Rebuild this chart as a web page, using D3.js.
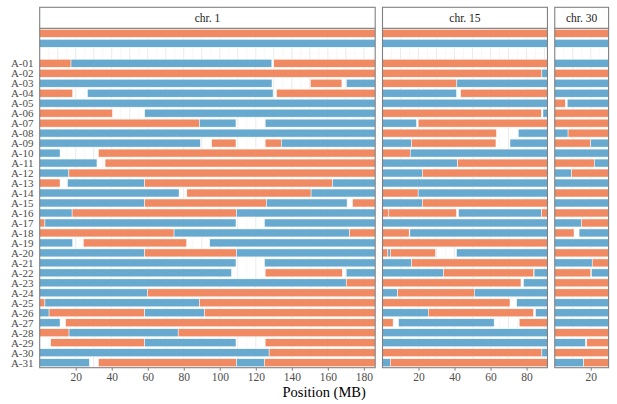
<!DOCTYPE html>
<html>
<head>
<meta charset="utf-8">
<script src="https://cdn.jsdelivr.net/npm/d3@7"></script>
<style>
  html, body { margin: 0; padding: 0; background: #ffffff; }
  svg { display: block; }
  text { font-family: "Liberation Serif", "Times New Roman", serif; }
</style>
</head>
<body>
<script>
// ---------------- DATA ----------------
const chromosomes = ["chr. 1", "chr. 15", "chr. 30"];
const chromLengths = [186.3, 91.6, 29.9];          // MB
const xTickValues = [
  [20, 40, 60, 80, 100, 120, 140, 160, 180],
  [20, 40, 60, 80],
  [20]
];
const rowIds = ["P1", "P2", "blank",
  "A-01","A-02","A-03","A-04","A-05","A-06","A-07","A-08","A-09","A-10",
  "A-11","A-12","A-13","A-14","A-15","A-16","A-17","A-18","A-19","A-20",
  "A-21","A-22","A-23","A-24","A-25","A-26","A-27","A-28","A-29","A-30","A-31"];
const rowLabels = ["", "", "",
  "A-01","A-02","A-03","A-04","A-05","A-06","A-07","A-08","A-09","A-10",
  "A-11","A-12","A-13","A-14","A-15","A-16","A-17","A-18","A-19","A-20",
  "A-21","A-22","A-23","A-24","A-25","A-26","A-27","A-28","A-29","A-30","A-31"];
const alleles = ["O", "B"];
const alleleColors = ["#ef8a62", "#67a9cf"];

// blocks: "allele start end" separated by commas (one string per row, same order as rowIds)
const chr1Blocks = [
  "O 0 186.3",
  "B 0 186.3",
  "",
  "O 0 17.4, B 17.4 128.9, O 130 186.3",
  "O 0 186.3",
  "B 0 129, O 150.3 167.8, B 170.3 186.3",
  "O 0 18.3, B 26.5 129.6, O 131.5 186.3",
  "B 0 186.3",
  "O 0 40.4, B 58.3 186.3",
  "O 0 88.7, B 88.7 109, B 125.2 186.3",
  "B 0 186.3",
  "B 0 89.2, O 95.5 109, O 125.2 134.2, B 134.2 186.3",
  "B 0 11.3, O 32.6 186.3",
  "B 0 31.8, O 36.3 186.3",
  "B 0 16.2, O 16.2 186.3",
  "O 0 11.3, B 15.4 58.3, O 58.3 162.6, B 162.6 186.3",
  "B 0 77.4, O 81.7 150.7, B 150.7 186.3",
  "B 0 58.3, O 58.3 125.9, B 125.9 170.7, O 173.7 186.3",
  "B 0 18, O 18 109.3, B 109.3 186.3",
  "O 0 2.9, B 2.9 109, B 124.8 186.3",
  "O 0 74.6, B 74.6 172, O 172 186.3",
  "B 0 18.3, O 24.2 81.6, B 94.4 186.3",
  "B 0 58.3, O 58.3 109.3, B 109.3 186.3",
  "B 0 109, B 124.8 186.3",
  "B 0 106.5, O 125.2 168, B 170.2 186.3",
  "B 0 170.2, O 170.2 186.3",
  "B 0 59.8, O 59.8 186.3",
  "O 0 2.9, B 2.9 88.7, O 88.7 186.3",
  "B 0 5.2, O 5.2 58.3, B 58.3 91.5, O 91.5 186.3",
  "B 0 11.3, O 14.4 186.3",
  "O 0 16.3, B 16.3 76.9, O 76.9 186.3",
  "O 6.1 58.3, B 58.3 109, O 125.2 186.3",
  "B 0 127.4, O 127.4 186.3",
  "B 0 27.6, O 32.6 109.3, B 109.3 124.8, O 124.8 186.3"
];
const chr15Blocks = [
  "O 0 91.6",
  "B 0 91.6",
  "",
  "O 0 91.6",
  "O 0 88.5, B 88.5 91.6",
  "O 0 41.3, B 41.3 91.6",
  "B 0 41.1, O 43.4 91.6",
  "B 0 91.6",
  "O 0 88.2, B 89.1 91.6",
  "B 0 18.9, O 19.8 91.6",
  "O 0 63.3, B 75.4 91.6",
  "B 0 16.1, O 16.1 63, B 70.8 91.6",
  "O 0 15.4, B 15.4 91.6",
  "B 0 41.7, O 41.7 91.6",
  "B 0 22.1, O 22.1 91.6",
  "B 0 91.6",
  "O 0 19.8, B 19.8 91.6",
  "B 0 22.1, O 22.1 91.6",
  "O 0 3.5, O 3.5 41.1, B 42.2 88.4, O 88.4 91.6",
  "B 0 91.6",
  "O 0 14.8, B 15.2 91.6",
  "O 0 91.6",
  "O 0 3, B 3 4.3, O 4.3 29.4, B 41.1 91.6",
  "B 0 16.1, O 16.1 91.6",
  "B 0 33.9, O 33.9 84, B 84.2 91.6",
  "O 0 76.9, B 78.3 91.6",
  "B 0 8.4, O 8.4 51, B 51 91.6",
  "O 0 70.8, B 74.5 91.6",
  "B 0 25.4, O 25.4 83.9, B 85 91.6",
  "O 0 5.9, B 8.9 62, O 75.9 91.6",
  "B 0 91.6",
  "B 0 91.6",
  "O 0 88.5, B 88.5 91.6",
  "B 0 4.3, O 4.3 91.6"
];
const chr30Blocks = [
  "O 0 29.9",
  "B 0 29.9",
  "",
  "B 0 29.9",
  "O 0 29.9",
  "B 0 29.9",
  "B 0 29.9",
  "O 0 5.9, B 6.9 29.9",
  "O 0 29.9",
  "O 0 29.9",
  "B 0 7.4, O 7.4 29.9",
  "O 0 20, B 20 29.9",
  "B 0 29.9",
  "O 0 22, B 22 29.9",
  "B 0 9.3, O 9.3 29.9",
  "B 0 29.9",
  "O 0 29.9",
  "B 0 29.9",
  "O 0 29.9",
  "B 0 14.8, O 14.8 29.9",
  "O 0 10.7, B 13.5 29.9",
  "B 0 29.9",
  "O 0 29.9",
  "B 0 20.8, O 20.8 29.9",
  "O 0 20, B 20.4 29.9",
  "O 0 29.9",
  "O 0 29.9",
  "B 0 29.9",
  "B 0 29.9",
  "B 0 29.9",
  "O 0 29.9",
  "B 0 17, O 17.8 29.9",
  "O 0 29.9",
  "B 0 16.1, O 16.1 29.9"
];
const allBlocks = [chr1Blocks, chr15Blocks, chr30Blocks];
const xTitle = "Position (MB)";

// ---------------- LAYOUT ----------------
const W = 617, H = 404;
const panelLeft = 39.7, panelRight = 608.6, panelGap = 7.3;
const stripTop = 7.3, stripBottom = 28.3, panelTop = 28.3, panelBottom = 367.7;

const svg = d3.select("body").append("svg").attr("width", W).attr("height", H);

const totalLen = d3.sum(chromLengths);
const pxPerMB = (panelRight - panelLeft - panelGap * (chromosomes.length - 1)) / totalLen;

const y = d3.scaleBand().domain(rowIds).range([panelTop, panelBottom]).paddingInner(0).paddingOuter(0);
const barH = y.bandwidth() * 0.8;
const color = d3.scaleOrdinal().domain(alleles).range(alleleColors);

function parseBlocks(str, row) {
  if (!str) return [];
  return str.split(",").map(s => {
    const p = s.trim().split(/\s+/);
    return { row: row, allele: p[0], start: +p[1], end: +p[2] };
  });
}

let xStart = panelLeft;
chromosomes.forEach((chr, ci) => {
  const len = chromLengths[ci];
  const x0 = xStart, x1 = xStart + len * pxPerMB;
  const x = d3.scaleLinear().domain([0, len]).range([x0, x1]);
  const g = svg.append("g");

  // grid lines
  const gridVals = d3.range(5, len, 5);
  g.selectAll("line.grid").data(gridVals).enter().append("line")
    .attr("x1", d => x(d)).attr("x2", d => x(d))
    .attr("y1", panelTop).attr("y2", panelBottom)
    .attr("stroke", d => (d % 10 === 0) ? "#e6e6e6" : "#f0f0f0")
    .attr("stroke-width", d => (d % 10 === 0) ? 0.8 : 0.5);

  // blocks
  const blocks = [];
  allBlocks[ci].forEach((s, ri) => blocks.push(...parseBlocks(s, rowIds[ri])));
  g.selectAll("rect.blk").data(blocks).enter().append("rect")
    .attr("x", d => x(d.start))
    .attr("width", d => Math.max(0, x(d.end) - x(d.start)))
    .attr("y", d => y(d.row) + (y.bandwidth() - barH) / 2)
    .attr("height", barH)
    .attr("fill", d => color(d.allele))
    .attr("stroke", "#ffffff")
    .attr("stroke-width", 0.5);

  // panel border
  g.append("rect").attr("x", x0).attr("y", panelTop).attr("width", x1 - x0).attr("height", panelBottom - panelTop)
    .attr("fill", "none").attr("stroke", "#808080").attr("stroke-width", 1.1);

  // strip
  g.append("rect").attr("x", x0).attr("y", stripTop).attr("width", x1 - x0).attr("height", stripBottom - stripTop)
    .attr("fill", "#ffffff").attr("stroke", "#808080").attr("stroke-width", 1.1);
  g.append("text").attr("x", (x0 + x1) / 2).attr("y", (stripTop + stripBottom) / 2).attr("dy", "0.35em")
    .attr("text-anchor", "middle").attr("font-size", 11.5).attr("fill", "#1a1a1a").text(chr);

  // x axis
  const ax = d3.axisBottom(x).tickValues(xTickValues[ci]).tickSize(3).tickPadding(2).tickFormat(d3.format("d"));
  const axg = svg.append("g").attr("transform", `translate(0,${panelBottom})`).call(ax);
  axg.select(".domain").remove();
  axg.selectAll(".tick line").attr("stroke", "#808080").attr("stroke-width", 1);
  axg.selectAll(".tick text").attr("font-size", 11.5).attr("fill", "#4d4d4d")
    .attr("font-family", "Liberation Serif, serif");

  xStart = x1 + panelGap;
});

// y labels
svg.append("g").selectAll("text").data(rowIds).enter().append("text")
  .attr("x", 33.5)
  .attr("y", d => y(d) + y.bandwidth() / 2)
  .attr("dy", "0.35em")
  .attr("text-anchor", "end")
  .attr("font-size", 11)
  .attr("fill", "#4d4d4d")
  .text((d, i) => rowLabels[i]);

// x title
svg.append("text").attr("x", (panelLeft + panelRight) / 2).attr("y", 397)
  .attr("text-anchor", "middle").attr("font-size", 14.5).attr("fill", "#000000").text(xTitle);
</script>
</body>
</html>
